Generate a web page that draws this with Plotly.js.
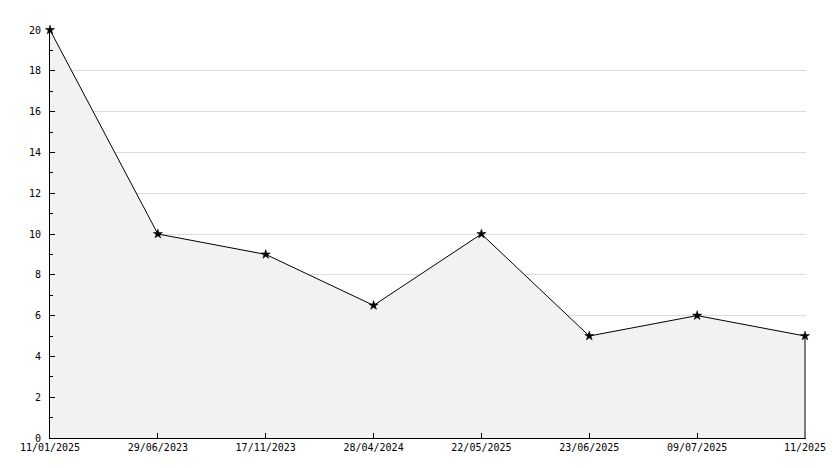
<!DOCTYPE html>
<html><head><meta charset="utf-8">
<script src="https://cdn.plot.ly/plotly-3.0.1.min.js"></script>
<style>html,body{margin:0;padding:0;background:#fff}#chart{width:834px;height:468px}</style>
</head><body><div id="chart"></div>
<script>
const categories = ["11/01/2025","29/06/2023","17/11/2023","28/04/2024","22/05/2025","23/06/2025","09/07/2025","11/2025"];
const values = [20, 10, 9, 6.5, 10, 5, 6, 5];
const yTicks = [0,2,4,6,8,10,12,14,16,18,20];

const lastCat = categories[categories.length-1];
const lastVal = values[values.length-1];

const traces = [
  {x: categories, y: values, type: 'scatter', mode: 'lines', fill: 'tozeroy',
   fillcolor: '#f2f2f2', line: {color: '#000', width: 1}, hoverinfo: 'skip'},
  {x: [lastCat, lastCat], y: [0, lastVal], type: 'scatter', mode: 'lines',
   line: {color: '#000', width: 1}, hoverinfo: 'skip'},
  {x: categories, y: values, type: 'scatter', mode: 'markers', cliponaxis: false,
   marker: {symbol: 'star', size: 7, color: '#000', line: {color: '#000', width: 0.5}}}
];

const n = categories.length - 1;
const layout = {
  width: 834, height: 468,
  margin: {l: 50, r: 28, t: 30, b: 30},
  paper_bgcolor: '#fff', plot_bgcolor: '#fff',
  showlegend: false,
  font: {family: 'DejaVu Sans Mono, monospace', size: 10, color: '#000'},
  xaxis: {type: 'category', range: [0, n * 756 / 755], showgrid: false,
    showline: true, linecolor: '#000', linewidth: 1, ticks: 'inside', ticklen: 5,
    tickcolor: '#000', zeroline: false, tickfont: {size: 10}, automargin: false},
  yaxis: {range: [0, 20], tickvals: yTicks, showgrid: true, gridcolor: '#dcdcdc',
    showline: true, linecolor: '#000', linewidth: 1, ticks: 'inside', ticklen: 5,
    tickcolor: '#000', zeroline: false, tickfont: {size: 10}, automargin: false,
    ticklabelstandoff: 6,
    minor: {dtick: 1, ticks: 'inside', ticklen: 3, tickcolor: '#000', showgrid: false}}
};
Plotly.newPlot('chart', traces, layout, {staticPlot: true});
</script></body></html>
